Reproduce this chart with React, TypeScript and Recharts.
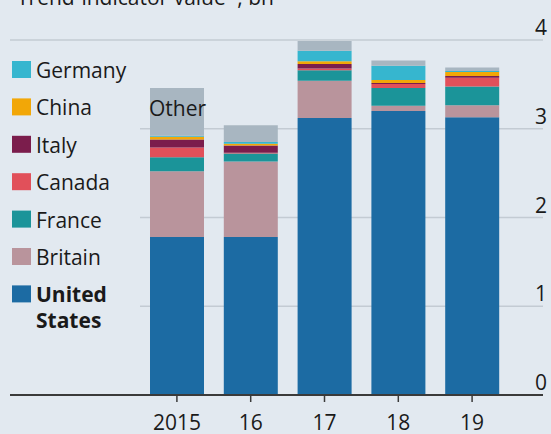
import { BarChart, Bar, XAxis, YAxis, CartesianGrid, LabelList } from 'recharts';

// Arms imports, trend-indicator value, bn
const years = ['2015', '16', '17', '18', '19'];
const unitedStates = [1.78, 1.78, 3.12, 3.2, 3.13];
const britain = [0.74, 0.85, 0.42, 0.06, 0.135];
const france = [0.16, 0.09, 0.12, 0.2, 0.21];
const canada = [0.11, 0.01, 0.02, 0.045, 0.1];
const italy = [0.09, 0.08, 0.05, 0.01, 0.02];
const china = [0.03, 0.02, 0.03, 0.035, 0.045];
const germany = [0.01, 0.02, 0.12, 0.16, 0.01];
const other = [0.54, 0.19, 0.11, 0.06, 0.04];
const yTicks = [0, 1, 2, 3, 4];

const series = [
  { key: 'us', name: 'United States', values: unitedStates, color: '#1c6ba3' },
  { key: 'britain', name: 'Britain', values: britain, color: '#b9949c' },
  { key: 'france', name: 'France', values: france, color: '#1b9499' },
  { key: 'canada', name: 'Canada', values: canada, color: '#e1505a' },
  { key: 'italy', name: 'Italy', values: italy, color: '#7b1d4c' },
  { key: 'china', name: 'China', values: china, color: '#f2a707' },
  { key: 'germany', name: 'Germany', values: germany, color: '#36b6cf' },
  { key: 'other', name: 'Other', values: other, color: '#a8b6c1' },
];

const data = years.map((year, i) => {
  const row: Record<string, string | number> = { year };
  series.forEach((s) => (row[s.key] = s.values[i]));
  return row;
});

const FONT = '"Open Sans", sans-serif';
const BG = '#e2e9f0';
const MARGIN = { top: 40, right: 7, left: 10, bottom: 0 };
const PAD_LEFT = 130;

const legendItems = series.filter((s) => s.key !== 'other').reverse();

const YTick = ({ y, payload }: any) => (
  <text x={547} y={y - 5} textAnchor="end" fontSize={21} fill="#1a1a1a" fontFamily={FONT}>
    {payload.value}
  </text>
);

const XTick = ({ x, payload }: any) => (
  <text x={x} y={430} textAnchor="middle" fontSize={21} fill="#1a1a1a" fontFamily={FONT}>
    {payload.value}
  </text>
);

// only the top gridline runs under the legend; the others start at the bars
const GridLine = ({ x1, x2, y1, y2 }: any) => (
  <line
    x1={y1 <= MARGIN.top + 1 ? x1 : MARGIN.left + PAD_LEFT}
    x2={x2}
    y1={y1}
    y2={y2}
    stroke="#c3cbd3"
    strokeWidth={1.5}
  />
);

const OtherLabel = ({ x, y, index }: any) =>
  index === 0 ? (
    <text x={x - 1} y={y + 28} fontSize={21} fill="#1a1a1a" fontFamily={FONT}>
      Other
    </text>
  ) : null;

export default function App() {
  return (
    <div style={{ position: 'absolute', left: 0, top: 0, width: 551, height: 434, background: BG, overflow: 'hidden' }}>
      <BarChart width={551} height={434} data={data} margin={MARGIN}>
        <CartesianGrid vertical={false} horizontal={GridLine} />
        <XAxis
          dataKey="year"
          height={39}
          padding={{ left: PAD_LEFT, right: 34 }}
          axisLine={{ stroke: '#3a3a3a', strokeWidth: 2 }}
          tickLine={{ stroke: '#3a3a3a', strokeWidth: 1.5 }}
          tickSize={7}
          tick={<XTick />}
          interval={0}
        />
        <YAxis
          orientation="right"
          width={1}
          domain={[0, 4]}
          ticks={yTicks}
          interval={0}
          axisLine={false}
          tickLine={false}
          tick={<YTick />}
        />
        {series.map((s) => (
          <Bar key={s.key} dataKey={s.key} stackId="a" fill={s.color} barSize={54} isAnimationActive={false}>
            {s.key === 'other' && <LabelList dataKey="other" content={<OtherLabel />} />}
          </Bar>
        ))}
      </BarChart>
      <svg width={551} height={434} style={{ position: 'absolute', left: 0, top: 0, pointerEvents: 'none' }}>
        <text x={17} y={5} fontSize={21} fill="#1a1a1a" fontFamily={FONT}>
          Trend-indicator value*, bn
        </text>
        {legendItems.map((s, i) => {
          const base = 78 + i * 37.4;
          const isUS = s.key === 'us';
          return (
            <g key={s.key}>
              <rect x={12} y={base - 17} width={19} height={17} fill={s.color} />
              {isUS ? (
                <text x={36} y={base} fontSize={21} fontWeight={700} fill="#1a1a1a" fontFamily={FONT}>
                  <tspan x={36} y={base}>United</tspan>
                  <tspan x={36} y={base + 26}>States</tspan>
                </text>
              ) : (
                <text x={36} y={base} fontSize={21} fill="#1a1a1a" fontFamily={FONT}>
                  {s.name}
                </text>
              )}
            </g>
          );
        })}
      </svg>
    </div>
  );
}
